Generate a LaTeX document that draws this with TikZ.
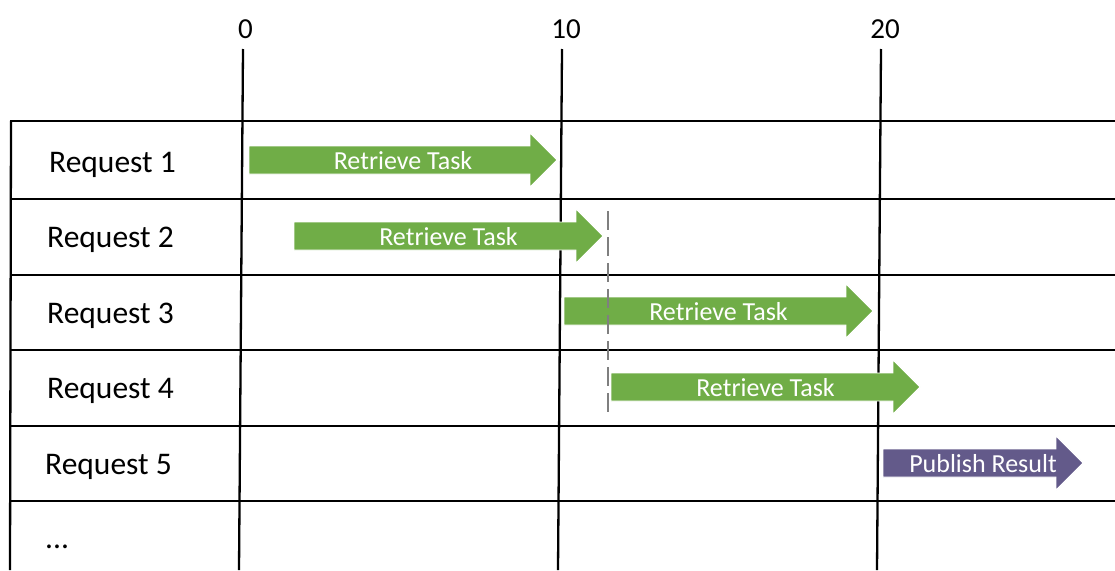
\documentclass[tikz,border=0pt]{standalone}
\usepackage{fontspec}
\setmainfont{Carlito}
\definecolor{taskgreen}{HTML}{70AD47}
\definecolor{publishpurple}{HTML}{635A8A}
\definecolor{markgray}{HTML}{7F7F7F}
\tikzset{
  grid line/.style={line width=2.3pt, black},
  row label/.style={anchor=base west, inner sep=0pt, font=\fontsize{31.5}{36}\selectfont},
  tick label/.style={anchor=base, inner sep=0pt, font=\fontsize{29}{34}\selectfont},
  task label/.style={anchor=base, inner sep=0pt, text=white, font=\fontsize{26}{30}\selectfont},
  task shape/.style={draw=white, line width=0.8pt},
  sync mark/.style={markgray, line width=2pt, dash pattern=on 19pt off 7pt},
}
% #1 name, #2 left end, #3 tip, #4 centre line, #5 colour, #6 caption
\newcommand{\taskbar}[6]{%
  \filldraw[task shape, fill=#5]
    (#2,#4-14) -- (#3-27,#4-14) -- (#3-27,#4-27) -- (#3,#4)
    -- (#3-27,#4+27) -- (#3-27,#4+14) -- (#2,#4+14) -- cycle;
  \node[task label] (#1) at ({(#2+#3)/2},#4+9) {#6};%
}
\begin{document}
\begin{tikzpicture}[x=1pt,y=-1pt]
\useasboundingbox (0,0) rectangle (1115,570);

% time axis ticks
\node[tick label] (t0)  at (245.5,38) {0};
\node[tick label] (t10) at (566,38) {10};
\node[tick label] (t20) at (885,38) {20};
\draw[grid line] (243,49) -- (239,570);
\draw[grid line] (562,49) -- (558,570);
\draw[grid line] (881,49) -- (877,570);

% table frame
\draw[grid line] (11,121) -- (10,570);
\foreach \yy in {121,199,275,350,426,501}
  \draw[grid line] (10,\yy) -- (1115,\yy);

% row captions
\node[row label] (q1) at (49,172.5) {Request 1};
\node[row label] (q2) at (47,247) {Request 2};
\node[row label] (q3) at (47,323) {Request 3};
\node[row label] (q4) at (47,398) {Request 4};
\node[row label] (q5) at (45,474) {Request 5};
\node[row label] (qn) at (45,548) {...};

% tasks
\taskbar{a1}{249}{557}{160}{taskgreen}{Retrieve Task}
\taskbar{a2}{294}{603}{236}{taskgreen}{Retrieve Task}
\taskbar{a3}{564}{873}{311}{taskgreen}{Retrieve Task}
\taskbar{a4}{611}{920}{387}{taskgreen}{Retrieve Task}
\taskbar{a5}{883}{1083}{463}{publishpurple}{Publish Result}

% completion marker of request 2
\coordinate (m1) at (608,211);
\coordinate (m2) at (608,416);
\draw[sync mark] (m1) -- (m2);
\end{tikzpicture}
\end{document}
